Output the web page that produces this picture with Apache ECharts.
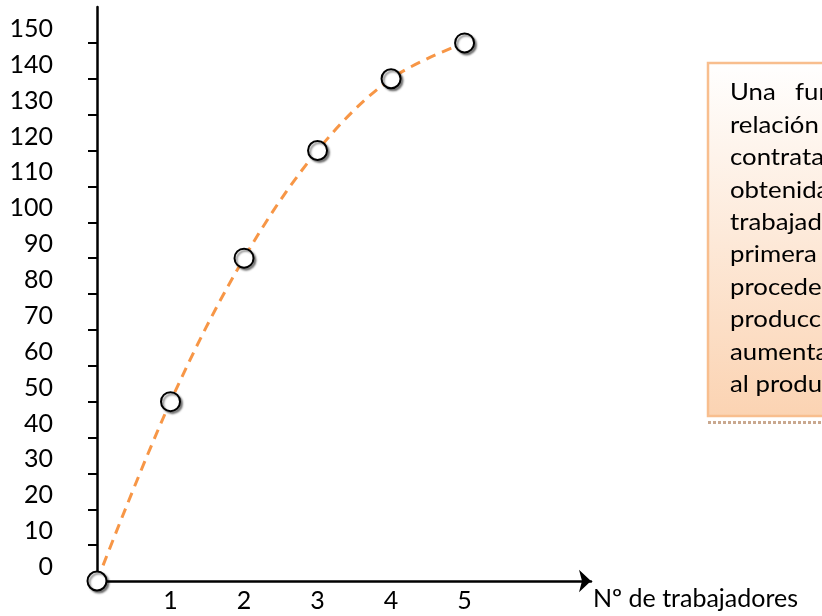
<!DOCTYPE html>
<html>
<head>
<meta charset="utf-8">
<script src="https://cdn.jsdelivr.net/npm/echarts@6/dist/echarts.min.js"></script>
<style>
  html, body { margin: 0; padding: 0; background: #ffffff; }
  #chart { width: 822px; height: 616px; }
</style>
</head>
<body>
<div id="chart"></div>
<script>
// Producción total según el número de trabajadores contratados
const workers = [0, 1, 2, 3, 4, 5];
const output = [0, 50, 90, 120, 140, 150];

// Marcas de los ejes
const yTickValues = [0, 10, 20, 30, 40, 50, 60, 70, 80, 90, 100, 110, 120, 130, 140, 150];
const yLabelValues = [0, 10, 20, 30, 40, 50, 60, 70, 80, 90, 100, 110, 120, 130, 140, 150];
const xLabelValues = [1, 2, 3, 4, 5];
const xAxisTitle = 'Nº de trabajadores';

// Texto del cuadro explicativo, línea a línea
const noteFirstWords = ['Una', 'función de producción muestra la'];
const noteLines = [
  'relación entre el número de trabajadores',
  'contratados y la cantidad de producción',
  'obtenida. Cada nuevo trabajador añade',
  'trabajadores menos producción que el',
  'primera unidad contratada; esto',
  'procede de la ley de rendimientos',
  'producción decrecientes: la producción',
  'aumenta, pero cada vez menos, hasta',
  'al producto máximo alcanzable.'
];

const FONT = 'Lato, "Open Sans", sans-serif';
const AXIS_FONT_SIZE = 25;
const chart = echarts.init(document.getElementById('chart'), null, { renderer: 'canvas' });

// Líneas del cuadro: ligeramente ensanchadas en horizontal
const noteX = 730, noteY0 = 93, noteStep = 32.4, noteScaleX = 1.12;
function noteText(text, x, y) {
  return {
    type: 'text',
    x: x, y: y,
    scaleX: noteScaleX,
    style: { text: text, x: 0, y: 0, font: '23px ' + FONT, fill: '#000', verticalAlign: 'middle' }
  };
}
const noteTexts = [
  noteText(noteFirstWords[0], noteX, noteY0),
  noteText(noteFirstWords[1], 795, noteY0)
].concat(noteLines.map((t, i) => noteText(t, noteX, noteY0 + noteStep * (i + 1))));

chart.setOption({
  animation: false,
  backgroundColor: '#ffffff',
  grid: { left: 97, top: 7, right: 231, bottom: 35, containLabel: false },
  xAxis: {
    type: 'value',
    min: 0,
    max: 6.72,
    splitLine: { show: false },
    axisLine: {
      show: true,
      lineStyle: { color: '#000', width: 2.5 },
      symbol: ['none', 'arrow'],
      symbolSize: [17, 12]
    },
    axisTick: { show: false },
    axisLabel: {
      customValues: xLabelValues,
      color: '#000',
      fontFamily: FONT,
      fontSize: AXIS_FONT_SIZE,
      margin: 7
    },
    name: xAxisTitle,
    nameLocation: 'end',
    nameGap: 2,
    nameTextStyle: {
      color: '#000',
      fontFamily: FONT,
      fontSize: AXIS_FONT_SIZE,
      align: 'left',
      verticalAlign: 'top',
      padding: [5, 0, 0, 0]
    }
  },
  yAxis: {
    type: 'value',
    min: 0,
    max: 160,
    splitLine: { show: false },
    axisLine: { show: true, lineStyle: { color: '#000', width: 2.5 } },
    axisTick: {
      show: true,
      customValues: yTickValues,
      length: 9,
      lineStyle: { color: '#000', width: 2 }
    },
    axisLabel: {
      customValues: yLabelValues,
      color: '#000',
      fontFamily: FONT,
      fontSize: AXIS_FONT_SIZE,
      margin: 44,
      align: 'right',
      verticalAlign: 'bottom',
      lineHeight: 28
    }
  },
  series: [{
    type: 'line',
    data: workers.map((w, i) => [w, output[i]]),
    smooth: 0.35,
    clip: false,
    symbol: 'circle',
    symbolSize: 19,
    lineStyle: { color: '#F79646', width: 3, type: [10, 7] },
    itemStyle: {
      color: '#ffffff',
      borderColor: '#000000',
      borderWidth: 2,
      shadowColor: 'rgba(0,0,0,0.45)',
      shadowBlur: 2,
      shadowOffsetX: 2,
      shadowOffsetY: 2
    },
    z: 5
  }],
  graphic: [{
    type: 'group',
    z: 10,
    children: [{
      type: 'line',
      shape: { x1: 708, y1: 422.5, x2: 822, y2: 422.5 },
      style: { stroke: '#C9A88F', lineWidth: 3, lineDash: [3, 2] }
    }, {
      type: 'rect',
      shape: { x: 708, y: 63, width: 140, height: 353 },
      style: {
        fill: new echarts.graphic.LinearGradient(0, 0, 0, 1, [
          { offset: 0, color: '#ffffff' },
          { offset: 1, color: '#FBD3B2' }
        ]),
        stroke: '#F8BE8E',
        lineWidth: 2.5
      }
    }].concat(noteTexts)
  }]
});
</script>
</body>
</html>
